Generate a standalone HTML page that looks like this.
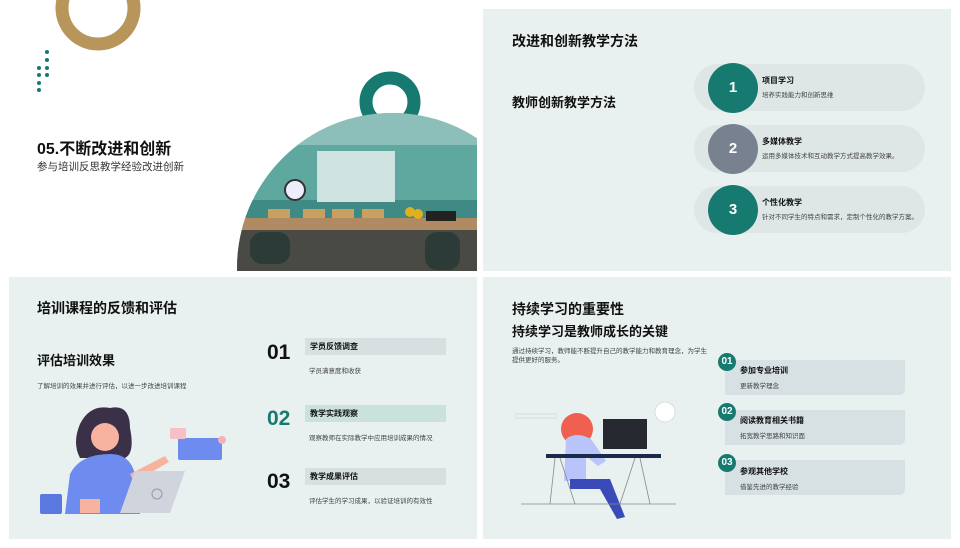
<!DOCTYPE html>
<html><head><meta charset="utf-8"><style>
*{margin:0;padding:0;box-sizing:border-box}
body{width:960px;height:548px;background:#fff;position:relative;overflow:hidden;font-family:"Liberation Sans","Noto Sans CJK SC",sans-serif;color:#111}
.a{position:absolute;white-space:nowrap}
.panel{position:absolute;background:#e8f1ef}
.h{font-weight:bold;font-size:14px}
.s{font-weight:bold;font-size:13px}
.t{font-size:6.5px;color:#444}
.pill{position:absolute;left:694px;width:231px;height:47px;border-radius:24px;background:#dfe7e6}
.circ{position:absolute;left:708px;width:50px;height:50px;border-radius:50%;color:#fff;font-weight:bold;font-size:15px;text-align:center;line-height:50px}
.bar{position:absolute;left:305px;width:141px;height:17px;background:#d7dfe0;font-size:8px;font-weight:bold;padding-left:5px;line-height:17px}
.num{position:absolute;left:267px;font-size:21px;font-weight:bold}
.card{position:absolute;left:725px;width:180px;height:35px;background:#d7e0e2;border-radius:0 0 6px 0}
.cn{position:absolute;left:718px;width:18px;height:18px;border-radius:50%;background:#177a70;color:#fff;font-weight:bold;font-size:10px;text-align:center;line-height:18px}
</style></head><body>
<!-- top-left -->
<svg class="a" style="left:0;top:0" width="480" height="274">
<circle cx="98" cy="8" r="36" fill="none" stroke="#b8955a" stroke-width="13"/>
<g fill="#177a70"><circle cx="47" cy="52" r="2"/><circle cx="47" cy="60" r="2"/><circle cx="47" cy="68" r="2"/><circle cx="47" cy="75" r="2"/><circle cx="39" cy="68" r="2"/><circle cx="39" cy="75" r="2"/><circle cx="39" cy="83" r="2"/><circle cx="39" cy="90" r="2"/></g>
<circle cx="390" cy="102" r="24" fill="none" stroke="#177a70" stroke-width="13"/>
<defs><clipPath id="c"><circle cx="392" cy="268" r="155"/></clipPath><clipPath id="r"><rect x="237" y="100" width="240" height="171"/></clipPath></defs>
<g clip-path="url(#r)"><g clip-path="url(#c)">
<rect x="230" y="100" width="250" height="175" fill="#5fa8a0"/>
<rect x="230" y="100" width="250" height="45" fill="#8cbfba"/>
<rect x="230" y="200" width="250" height="20" fill="#3f8a84"/>
<rect x="317" y="151" width="78" height="51" fill="#cfe3e0"/>
<circle cx="295" cy="190" r="10" fill="#eef" stroke="#333" stroke-width="2"/>
<g fill="#c9a060"><rect x="268" y="209" width="22" height="10"/><rect x="303" y="209" width="22" height="10"/><rect x="332" y="209" width="22" height="10"/><rect x="362" y="209" width="22" height="10"/></g>
<rect x="230" y="218" width="250" height="12" fill="#b08a62"/>
<rect x="230" y="230" width="250" height="45" fill="#4a4a44"/>
<rect x="250" y="232" width="40" height="32" rx="12" fill="#2c3b38"/><rect x="425" y="232" width="35" height="38" rx="12" fill="#2c3b38"/>
<circle cx="410" cy="212" r="5" fill="#e0b020"/><circle cx="418" cy="214" r="5" fill="#e0b020"/>
<rect x="426" y="211" width="30" height="10" fill="#222"/>
</g></g>
</svg>
<div class="a" style="left:37px;top:135px;font-size:16px;font-weight:bold">05.不断改进和创新</div>
<div class="a" style="left:37px;top:159px;font-size:10.5px;color:#333">参与培训反思教学经验改进创新</div>
<!-- top-right -->
<div class="panel" style="left:483px;top:9px;width:468px;height:262px"></div>
<div class="a h" style="left:512px;top:31px">改进和创新教学方法</div>
<div class="a s" style="left:512px;top:92px">教师创新教学方法</div>
<div class="pill" style="top:64px"></div><div class="pill" style="top:125px"></div><div class="pill" style="top:186px"></div>
<div class="circ" style="top:63px;background:#177a70">1</div>
<div class="circ" style="top:124px;background:#778190">2</div>
<div class="circ" style="top:185px;background:#177a70">3</div>
<div class="a" style="left:762px;top:75px;font-size:8px;font-weight:bold">项目学习</div>
<div class="a t" style="left:762px;top:89px">培养实践能力和创新思维</div>
<div class="a" style="left:762px;top:136px;font-size:8px;font-weight:bold">多媒体教学</div>
<div class="a t" style="left:762px;top:150px">运用多媒体技术和互动教学方式提高教学效果。</div>
<div class="a" style="left:762px;top:197px;font-size:8px;font-weight:bold">个性化教学</div>
<div class="a t" style="left:762px;top:211px">针对不同学生的特点和需求，定制个性化的教学方案。</div>
<!-- bottom-left -->
<div class="panel" style="left:9px;top:277px;width:468px;height:262px"></div>
<div class="a h" style="left:37px;top:298px">培训课程的反馈和评估</div>
<div class="a s" style="left:37px;top:350px">评估培训效果</div>
<div class="a t" style="left:37px;top:380px">了解培训的效果并进行评估，以进一步改进培训课程</div>
<div class="num" style="top:341px">01</div><div class="num" style="top:407px;color:#177a70">02</div><div class="num" style="top:470px">03</div>
<div class="bar" style="top:338px">学员反馈调查</div>
<div class="bar" style="top:405px;background:#c9e2de">教学实践观察</div>
<div class="bar" style="top:468px">教学成果评估</div>
<div class="a t" style="left:309px;top:365px">学员满意度和收获</div>
<div class="a t" style="left:309px;top:432px">观察教师在实际教学中应用培训成果的情况</div>
<div class="a t" style="left:309px;top:495px">评估学生的学习成果，以验证培训的有效性</div>
<svg class="a" style="left:0;top:274px" width="480" height="274">
<path d="M80 150 q10-20 30-16 q20-4 20 20 q5 25-5 30 l-45 0 q-8-15 0-34z" fill="#3a3048"/>
<circle cx="105" cy="163" r="14" fill="#f7b3a0"/>
<path d="M70 200 q10-20 40-20 q20 0 25 20 l5 40 l-75 0z" fill="#6e8bf0"/>
<rect x="80" y="225" width="20" height="14" fill="#f7b3a0"/>
<path d="M130 200 l35-18 l4 6 l-35 20z" fill="#f7b3a0"/>
<rect x="178" y="164" width="44" height="22" rx="2" fill="#6e8bf0"/>
<rect x="170" y="154" width="16" height="11" rx="2" fill="#f5c0c8"/>
<circle cx="222" cy="166" r="4" fill="#f5b0b8"/>
<path d="M135 197 l50 0 l-15 42 l-50 0z" fill="#d0d4dc"/>
<circle cx="157" cy="220" r="5" fill="none" stroke="#999"/>
<rect x="40" y="220" width="22" height="20" rx="2" fill="#5a78e0"/>
</svg>
<!-- bottom-right -->
<div class="panel" style="left:483px;top:277px;width:468px;height:262px"></div>
<div class="a h" style="left:512px;top:299px">持续学习的重要性</div>
<div class="a s" style="left:512px;top:321px">持续学习是教师成长的关键</div>
<div class="a t" style="left:512px;top:347px;line-height:9px">通过持续学习，教师能不断提升自己的教学能力和教育理念，为学生<br>提供更好的服务。</div>
<div class="card" style="top:360px"></div><div class="card" style="top:410px"></div><div class="card" style="top:460px"></div>
<div class="cn" style="top:353px">01</div><div class="cn" style="top:403px">02</div><div class="cn" style="top:454px">03</div>
<div class="a" style="left:740px;top:365px;font-size:8px;font-weight:bold">参加专业培训</div>
<div class="a t" style="left:740px;top:380px">更新教学理念</div>
<div class="a" style="left:740px;top:415px;font-size:8px;font-weight:bold">阅读教育相关书籍</div>
<div class="a t" style="left:740px;top:430px">拓宽教学思路和知识面</div>
<div class="a" style="left:740px;top:466px;font-size:8px;font-weight:bold">参观其他学校</div>
<div class="a t" style="left:740px;top:481px">借鉴先进的教学经验</div>
<svg class="a" style="left:480px;top:274px" width="480" height="274">
<rect x="35" y="140" width="42" height="4" fill="none" stroke="#ddd"/>
<circle cx="185" cy="138" r="10" fill="#fff" stroke="#ddd"/>
<circle cx="97" cy="155" r="16" fill="#f06050"/>
<path d="M86 165 q10-8 25 0 l15 22 l-8 5 l-12-10 l0 25 l-22 0z" fill="#b8c4fa"/>
<path d="M90 205 l40 0 l15 38 l-8 2 l-17-30 l-30 0z" fill="#3a4ab8"/>
<rect x="123" y="145" width="44" height="30" fill="#262a30"/>
<rect x="66" y="180" width="115" height="4" fill="#1a2a4a"/>
<g stroke="#888" stroke-width="0.8"><line x1="75" y1="184" x2="70" y2="230"/><line x1="80" y1="184" x2="95" y2="230"/><line x1="155" y1="184" x2="140" y2="230"/><line x1="160" y1="184" x2="170" y2="230"/><line x1="41" y1="230" x2="196" y2="230"/></g>
</svg>
</body></html>
